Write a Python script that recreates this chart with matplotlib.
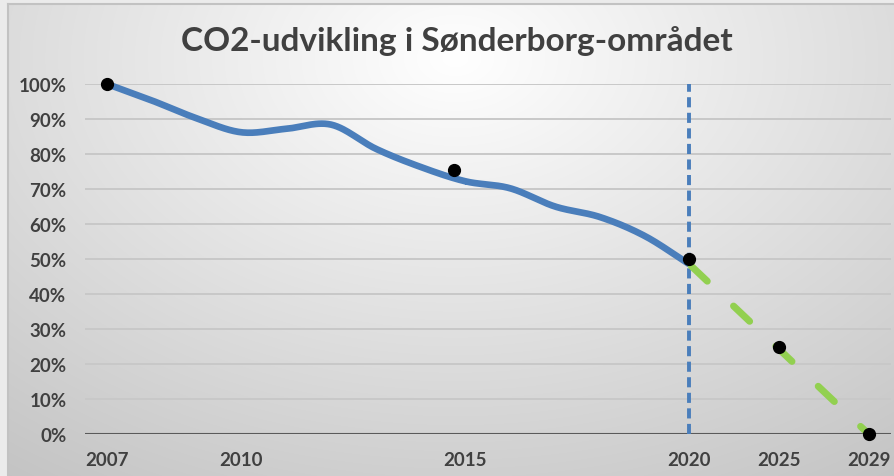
import numpy as np
import matplotlib
matplotlib.use("Agg")
import matplotlib.pyplot as plt

# ---- data ----
categories = ["2007", "2008", "2009", "2010", "2011", "2012", "2013", "2014", "2015",
              "2016", "2017", "2018", "2019", "2020", "", "2025", "", "2029"]
shown_labels = ["2007", "2010", "2015", "2020", "2025", "2029"]
actual_values = [100, 95.3, 90.2, 86.2, 87.2, 88.4, 81.5, 76.3, 72.2, 70.2, 65.0, 62.0, 56.6, 48.5]
target_idx = [13, 17]
target_values = [48.5, 0]
dot_pos = [0, 7.75, 13, 15, 17]
dot_values = [100, 75.3, 50, 25, 0]
marker_idx = 13
y_ticks = [0, 10, 20, 30, 40, 50, 60, 70, 80, 90, 100]
title = "CO2-udvikling i Sønderborg-området"

TXT = "#404040"
BLUE = "#4A7EBB"
GREEN = "#92D050"
plt.rcParams['font.family'] = ['Lato', 'DejaVu Sans']


def smooth(xs, ys, n=30):
    # Catmull-Rom style rendering of a smoothed line (Excel-like)
    xs = np.asarray(xs, float); ys = np.asarray(ys, float)
    px = np.concatenate([[2 * xs[0] - xs[1]], xs, [2 * xs[-1] - xs[-2]]])
    py = np.concatenate([[2 * ys[0] - ys[1]], ys, [2 * ys[-1] - ys[-2]]])
    outx, outy = [], []
    t = np.linspace(0, 1, n)
    for i in range(1, len(px) - 2):
        for arr, out in ((px, outx), (py, outy)):
            p0, p1, p2, p3 = arr[i - 1], arr[i], arr[i + 1], arr[i + 2]
            out.extend(0.5 * ((2 * p1) + (-p0 + p2) * t + (2 * p0 - 5 * p1 + 4 * p2 - p3) * t ** 2
                              + (-p0 + 3 * p1 - 3 * p2 + p3) * t ** 3))
    return np.array(outx), np.array(outy)


W, H = 894, 477
fig = plt.figure(figsize=(W / 100, H / 100), dpi=100, facecolor="#ebebeb")

# background frame with gradient
bg = fig.add_axes([8 / W, 0, 1, 1 - 5 / H], zorder=-10)
yy, xx = np.mgrid[0:480, 0:900]
d = np.sqrt(((xx - 450) / 800.0) ** 2 + ((yy - 55) / 550.0) ** 2)
c = np.clip(255 - 62 * d, 0, 255) / 255.0
bg.imshow(np.dstack([c, c, c]), aspect="auto", extent=[0, 1, 0, 1], origin="upper")
bg.set_xlim(0, 1); bg.set_ylim(0, 1)
bg.set_xticks([]); bg.set_yticks([])
for s in ["right", "bottom"]:
    bg.spines[s].set_visible(False)
for s in ["left", "top"]:
    bg.spines[s].set_color("#c2c2c2"); bg.spines[s].set_linewidth(1.5)

ax = fig.add_axes([84.6 / W, (H - 435) / H, (891 - 84.6) / W, 350 / H])
ax.set_facecolor("none")
ax.set_xlim(-0.5, len(categories) - 0.5)
ax.set_ylim(0, 100)
for s in ax.spines.values():
    s.set_visible(False)

ax.set_yticks(y_ticks)
ax.set_yticklabels([f"{v}%" for v in y_ticks])
ax.yaxis.grid(True, color="#c8c8c8", linewidth=1.4)
ax.set_axisbelow(True)
ax.axhline(0, color="#5a5a5a", linewidth=1.5, zorder=1)
xt = [categories.index(l) for l in shown_labels]
ax.set_xticks(xt)
ax.set_xticklabels(shown_labels)
ax.tick_params(axis="both", length=0, labelcolor=TXT, labelsize=13.5)
ax.tick_params(axis="y", pad=13)
ax.tick_params(axis="x", pad=12)
for lab in ax.get_xticklabels() + ax.get_yticklabels():
    lab.set_fontweight("bold")

# vertical marker
ax.plot([marker_idx, marker_idx], [0, 100], color=BLUE, linewidth=2.8,
        linestyle=(0, (2.6, 1.4)), dash_capstyle="butt", zorder=3)

# actual (smoothed)
sx, sy = smooth(list(range(len(actual_values))), actual_values)
ax.plot(sx, sy, color=BLUE, linewidth=4.8, solid_capstyle="butt", zorder=4, clip_on=False)

# target (dashed green)
ax.plot(target_idx, target_values, color=GREEN, linewidth=5,
        linestyle=(8.05, (3.2, 5.2)), dash_capstyle="round", zorder=4, clip_on=False)

# dots
ax.plot(dot_pos, dot_values, "o", color="black", markersize=8.5, zorder=6, clip_on=False)

fig.text(0.511, 0.914, title, ha="center", va="center", fontsize=24,
         fontweight="bold", color=TXT)

fig.savefig("out.png", dpi=100, facecolor=fig.get_facecolor())
